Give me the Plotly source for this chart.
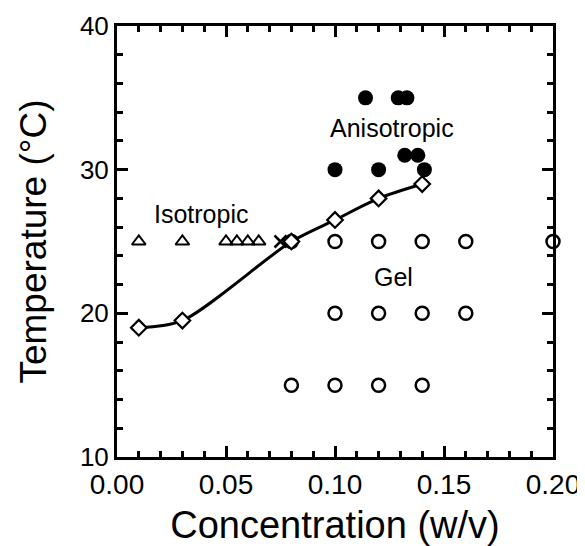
import plotly.graph_objects as go
from plotly.subplots import make_subplots

# Isotropic solutions (open triangles) at 25 C
iso_x = [0.01, 0.03, 0.05, 0.055, 0.06, 0.065]
iso_y = [25, 25, 25, 25, 25, 25]

# turbid / cross point
cross_x = [0.075]
cross_y = [25]

# Gel (open circles)
gel_x = [0.08, 0.10, 0.12, 0.14, 0.16, 0.20,
         0.10, 0.12, 0.14, 0.16,
         0.08, 0.10, 0.12, 0.14]
gel_y = [25, 25, 25, 25, 25, 25,
         20, 20, 20, 20,
         15, 15, 15, 15]

# Anisotropic (filled circles)
aniso_x = [0.114, 0.129, 0.133, 0.132, 0.138, 0.10, 0.12, 0.141]
aniso_y = [35, 35, 35, 31, 31, 30, 30, 30]

# Sol-gel transition (open diamonds with smooth curve)
trans_x = [0.01, 0.03, 0.08, 0.10, 0.12, 0.14]
trans_y = [19.0, 19.5, 25.0, 26.5, 28.0, 29.0]

FONT = "Liberation Sans"

fig = make_subplots(rows=1, cols=1)

fig.add_trace(go.Scatter(
    x=trans_x, y=trans_y, mode="lines",
    line=dict(color="black", width=3, shape="spline", smoothing=0.8),
), row=1, col=1)
fig.add_trace(go.Scatter(
    x=iso_x, y=iso_y, mode="markers",
    marker=dict(symbol="triangle-up-open", size=12, color="black",
                line=dict(width=2)),
), row=1, col=1)
fig.add_trace(go.Scatter(
    x=cross_x, y=cross_y, mode="markers",
    marker=dict(symbol="x-thin-open", size=12, color="black",
                line=dict(width=2.5)),
), row=1, col=1)
fig.add_trace(go.Scatter(
    x=gel_x, y=gel_y, mode="markers", cliponaxis=False,
    marker=dict(symbol="circle", size=13, color="white",
                line=dict(width=2.5, color="black")),
), row=1, col=1)
fig.add_trace(go.Scatter(
    x=aniso_x, y=aniso_y, mode="markers",
    marker=dict(symbol="circle", size=15, color="black",
                line=dict(width=0)),
), row=1, col=1)
fig.add_trace(go.Scatter(
    x=trans_x, y=trans_y, mode="markers",
    marker=dict(symbol="diamond", size=12, color="white",
                line=dict(width=2.2, color="black")),
), row=1, col=1)

labels = [("Isotropic", 0.0385, 26.9), ("Anisotropic", 0.126, 32.9), ("Gel", 0.127, 22.5)]
for txt, lx, ly in labels:
    fig.add_annotation(x=lx, y=ly, text=txt, showarrow=False,
                       font=dict(family=FONT, size=25, color="black"))

axis_common = dict(
    showline=True, linecolor="black", linewidth=3, mirror="ticks",
    ticks="inside", ticklen=11, tickwidth=2.5, tickcolor="black",
    showgrid=False, zeroline=False, automargin=False,
)

fig.update_xaxes(
    range=[0, 0.2], tickmode="linear", tick0=0, dtick=0.05, tickformat=".2f",
    minor=dict(ticks="inside", ticklen=6, tickwidth=2.5, tickcolor="black",
               tickmode="linear", dtick=0.01),
    tickfont=dict(family=FONT, size=28, color="black"),
    title=dict(text="Concentration (w/v)", font=dict(family=FONT, size=38, color="black"),
               standoff=15),
    row=1, col=1, **axis_common,
)
fig.update_yaxes(
    range=[10, 40], tickmode="linear", tick0=10, dtick=10,
    minor=dict(ticks="inside", ticklen=6, tickwidth=2.5, tickcolor="black",
               tickmode="linear", dtick=2),
    tickfont=dict(family=FONT, size=26, color="black"),
    title=dict(text="Temperature (°C)", font=dict(family=FONT, size=37, color="black"),
               standoff=22),
    row=1, col=1, **axis_common,
)

# page body has an 8px margin, so the figure is 8px smaller than the window
fig.update_layout(
    width=577, height=538,
    margin=dict(l=109, r=32, t=18, b=89),
    plot_bgcolor="white",
    showlegend=False,
)

fig.write_html("out.html")
